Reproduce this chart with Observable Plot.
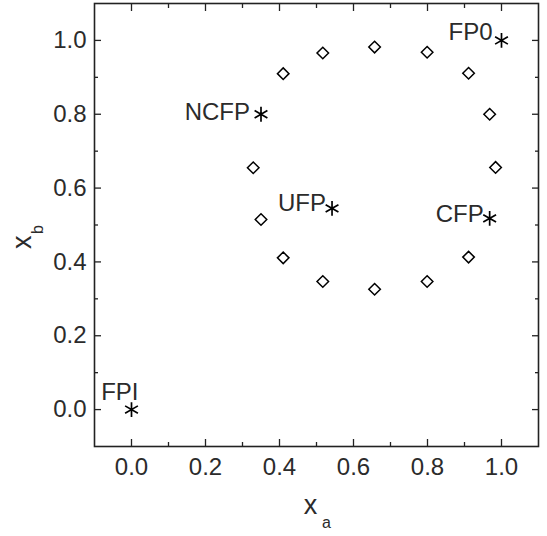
<!DOCTYPE html>
<html>
<head>
<meta charset="utf-8">
<script src="https://cdn.jsdelivr.net/npm/d3@7"></script>
<script src="https://cdn.jsdelivr.net/npm/@observablehq/plot@0.6"></script>
<style>
  html, body { margin: 0; padding: 0; background: #fff; overflow: hidden; }
  #chart { width: 547px; height: 536px; }
</style>
</head>
<body>
<div id="chart"></div>
<script>
// Flow trajectory points (diamonds)
const flowXa = [0.410, 0.517, 0.657, 0.799, 0.911, 0.968, 0.984, 0.911, 0.799, 0.657, 0.517, 0.410, 0.350, 0.329];
const flowXb = [0.910, 0.966, 0.982, 0.968, 0.911, 0.800, 0.656, 0.413, 0.347, 0.326, 0.347, 0.411, 0.515, 0.655];

// Fixed points (asterisks)
const fixedNames = ["FP0", "NCFP", "UFP", "CFP", "FPI"];
const fixedXa = [1.0, 0.350, 0.542, 0.968, 0.0];
const fixedXb = [1.0, 0.800, 0.545, 0.518, 0.0];

// Axis ticks
const majorTicks = [0, 0.2, 0.4, 0.6, 0.8, 1.0];
const minorTicks = [0.1, 0.3, 0.5, 0.7, 0.9];
const tickLabels = ["0.0", "0.2", "0.4", "0.6", "0.8", "1.0"];

const flow = flowXa.map((v, i) => ({xa: v, xb: flowXb[i]}));
const fixed = fixedNames.map((n, i) => ({name: n, xa: fixedXa[i], xb: fixedXb[i]}));

const font = "Liberation Sans, Arial, sans-serif";
const ink = "#222";
const textInk = "#2b2b2b";

// label offsets (layout only)
const labelOffset = {
  FP0: {dx: -9, dy: -8},
  NCFP: {dx: -11, dy: -2},
  UFP: {dx: -6, dy: -5},
  CFP: {dx: -6, dy: -4},
  FPI: {dx: 7, dy: -17}
};

const fmt = d => tickLabels[majorTicks.indexOf(d)];
const blank = () => "";

// inward ticks on all four sides
const tickMarks = [];
for (const anchor of ["bottom", "top"]) {
  tickMarks.push(Plot.axisX(majorTicks, {anchor, tickSize: -7, tickFormat: blank, label: null, stroke: ink, strokeWidth: 1.3}));
  tickMarks.push(Plot.axisX(minorTicks, {anchor, tickSize: -4, tickFormat: blank, label: null, stroke: ink, strokeWidth: 1.3}));
}
for (const anchor of ["left", "right"]) {
  tickMarks.push(Plot.axisY(majorTicks, {anchor, tickSize: -7, tickFormat: blank, label: null, stroke: ink, strokeWidth: 1.3}));
  tickMarks.push(Plot.axisY(minorTicks, {anchor, tickSize: -4, tickFormat: blank, label: null, stroke: ink, strokeWidth: 1.3}));
}

const labelMarks = fixedNames.map(n => {
  const o = labelOffset[n];
  return Plot.text(fixed.filter(d => d.name === n), {
    x: "xa", y: "xb", text: "name",
    dx: o.dx, dy: o.dy, textAnchor: "end",
    fontSize: 24, fill: textInk, fontFamily: font
  });
});

const plot = Plot.plot({
  width: 547,
  height: 536,
  marginLeft: 94,
  marginRight: 9,
  marginTop: 3,
  marginBottom: 90,
  style: {fontFamily: font, background: "#fff", color: ink},
  x: {domain: [-0.1, 1.1], label: null},
  y: {domain: [-0.1, 1.1], label: null},
  marks: [
    Plot.frame({stroke: ink, strokeWidth: 1.6}),
    ...tickMarks,
    Plot.axisX(majorTicks, {anchor: "bottom", tickSize: 0, tickPadding: 11, tickFormat: fmt, fontSize: 24, fill: textInk, label: null}),
    Plot.axisY(majorTicks, {anchor: "left", tickSize: 0, tickPadding: 8, tickFormat: fmt, fontSize: 24, fill: textInk, label: null}),
    Plot.dot(flow, {x: "xa", y: "xb", symbol: "diamond2", r: 5.2, stroke: "#000", fill: "#fff", strokeWidth: 1.5}),
    Plot.dot(fixed, {x: "xa", y: "xb", symbol: "asterisk", r: 7, stroke: "#000", strokeWidth: 1.7}),
    ...labelMarks,
    // axis titles: x_a and x_b
    Plot.text(["x"], {frameAnchor: "bottom", dx: -6, dy: 67, fontSize: 27, fill: textInk, fontFamily: font}),
    Plot.text(["a"], {frameAnchor: "bottom", dx: 10, dy: 81, fontSize: 16, fill: textInk, fontFamily: font}),
    Plot.text(["x"], {frameAnchor: "left", dx: -72, dy: 24, rotate: -90, fontSize: 27, fill: textInk, fontFamily: font}),
    Plot.text(["b"], {frameAnchor: "left", dx: -57, dy: 9, rotate: -90, fontSize: 16, fill: textInk, fontFamily: font})
  ]
});
document.getElementById("chart").appendChild(plot);
</script>
</body>
</html>
